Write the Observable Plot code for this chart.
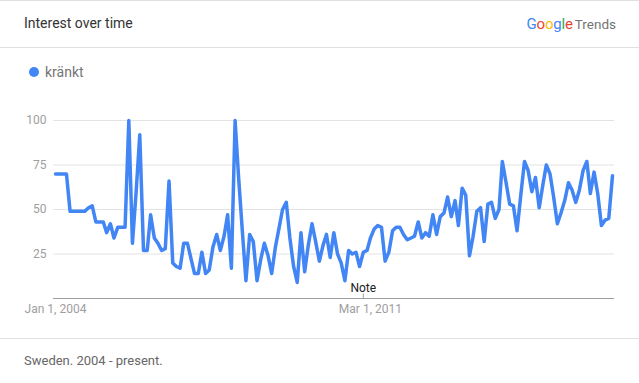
<!DOCTYPE html>
<html>
<head>
<meta charset="utf-8">
<script src="https://cdn.jsdelivr.net/npm/d3@7"></script>
<script src="https://cdn.jsdelivr.net/npm/@observablehq/plot@0.6"></script>
<style>
  html, body { margin: 0; padding: 0; background: #fff; }
  body { width: 639px; height: 383px; position: relative; overflow: hidden; font-family: Roboto, "Noto Sans", sans-serif; }
  .abs { position: absolute; }
  .hr { position: absolute; left: 0; width: 639px; height: 1px; background: #e0e0e0; }
  #title { left: 24px; top: 15px; font-size: 14px; line-height: 16px; color: #333; }
  #brand { right: 23px; top: 15px; font-size: 14px; line-height: 18px; white-space: nowrap; }
  #brand .g { font-size: 15px; letter-spacing: -0.2px; }
  #brand .t { color: #757575; font-size: 13.5px; margin-left: 2px; }
  #legend { left: 29px; top: 64px; font-size: 14px; line-height: 16px; color: #757575; display: flex; align-items: center; }
  #legend .dot { width: 10px; height: 10px; border-radius: 50%; background: #4285f4; margin-right: 6px; }
  #chart { left: 0; top: 100px; }
  #footer { left: 24px; top: 353px; font-size: 13px; line-height: 16px; color: #666; }
</style>
</head>
<body>
<div class="hr" style="top:0"></div>
<div id="title" class="abs">Interest over time</div>
<div id="brand" class="abs"><span class="g"><span style="color:#4285f4">G</span><span style="color:#ea4335">o</span><span style="color:#fbbc05">o</span><span style="color:#4285f4">g</span><span style="color:#34a853">l</span><span style="color:#ea4335">e</span></span><span class="t">Trends</span></div>
<div class="hr" style="top:47px"></div>
<div id="legend" class="abs"><span class="dot"></span><span id="seriesName"></span></div>
<div id="chart" class="abs"></div>
<div class="hr" style="top:338px"></div>
<div id="footer" class="abs">Sweden. 2004 - present.</div>
<script>
// Series
const seriesName = "kränkt";
const startYear = 2004; // monthly values starting Jan 2004
const values = [
  70,70,70,70,49,49,49,49,49,51,52,43,43,43,37,42,34,40,40,40,
  100,31,60,92,27,27,47,34,31,27,28,66,20,18,17,31,31,22,14,14,
  26,14,16,29,36,27,35,47,17,100,68,38,10,36,32,10,22,31,24,14,
  29,40,50,54,34,18,9,37,15,30,42,32,21,30,36,23,37,25,20,10,
  27,25,26,18,26,27,34,39,41,40,21,26,38,40,40,36,33,34,35,43,
  34,37,35,47,36,46,48,57,46,55,41,62,58,24,35,49,51,32,53,54,
  45,50,77,65,53,52,38,58,77,72,60,68,51,64,75,70,57,42,48,55,
  65,61,54,61,72,77,59,71,59,41,44,45,69
];
const yTicks = [25, 50, 75, 100];
const xTickDates = [new Date(Date.UTC(2004, 0, 1)), new Date(Date.UTC(2011, 2, 1))];
const noteDates = [new Date(Date.UTC(2011, 0, 1))];
const noteLabel = "Note";

document.getElementById("seriesName").textContent = seriesName;

const data = values.map((v, i) => ({date: new Date(Date.UTC(startYear, i, 1)), value: v}));

const chart = Plot.plot({
  width: 639,
  height: 230,
  marginTop: 20,
  marginBottom: 32,
  marginLeft: 55,
  marginRight: 27,
  style: {fontFamily: "Roboto, sans-serif", fontSize: "12px", background: "white"},
  x: {type: "utc", domain: [data[0].date, data[data.length - 1].date]},
  y: {domain: [0, 100]},
  marks: [
    Plot.ruleY(yTicks, {stroke: "#e3e3e3", insetLeft: -2, insetRight: -2}),
    Plot.ruleY([0], {stroke: "#9e9e9e", insetLeft: -2, insetRight: -2}),
    Plot.axisY({ticks: yTicks, tickSize: 0, tickPadding: 9, fill: "#9e9e9e", label: null}),
    Plot.axisX({ticks: xTickDates, tickSize: 0, tickPadding: 6, fill: "#9e9e9e", label: null,
      tickFormat: d3.utcFormat("%b %-d, %Y")}),
    Plot.ruleX(noteDates, {y1: 0, y2: 2.5, stroke: "#9e9e9e"}),
    Plot.text(noteDates, {x: d => d, y: 0, dy: -10, text: () => noteLabel, fill: "#212121", fontSize: 12}),
    Plot.line(data, {x: "date", y: "value", stroke: "#4285f4", strokeWidth: 3.5, strokeLinejoin: "round"})
  ]
});
document.getElementById("chart").appendChild(chart);
</script>
</body>
</html>
